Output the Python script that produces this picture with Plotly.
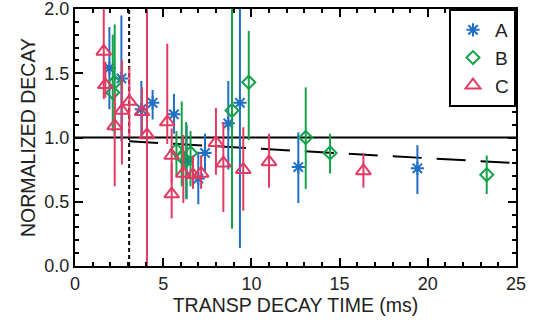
import plotly.graph_objects as go

# ---- data ----
a_x = [1.95, 2.63, 3.76, 4.40, 5.61, 6.33, 6.99, 7.37, 8.69, 9.35, 12.66, 19.41]
a_y = [1.54, 1.46, 1.22, 1.27, 1.18, 0.82, 0.68, 0.88, 1.11, 1.27, 0.77, 0.76]
a_hi = [1.86, 1.95, 1.44, 1.37, 1.34, 1.10, 0.89, 1.03, 1.44, 2.30, 1.04, 0.94]
a_lo = [1.22, 0.97, 1.00, 1.14, 1.03, 0.52, 0.48, 0.74, 0.75, 0.14, 0.49, 0.56]

b_x = [2.14, 2.25, 5.75, 6.05, 6.30, 6.55, 8.90, 9.85, 13.08, 14.46, 23.34]
b_y = [1.35, 1.43, 0.90, 0.85, 0.82, 0.88, 1.21, 1.43, 1.00, 0.88, 0.71]
b_hi = [1.80, 1.88, 1.05, 1.28, 1.12, 1.05, 2.30, 1.83, 1.39, 1.03, 0.86]
b_lo = [1.05, 1.02, 0.70, 0.62, 0.52, 0.62, 0.29, 0.98, 0.60, 0.72, 0.56]

c_x = [1.63, 1.72, 2.25, 2.66, 3.08, 3.80, 4.08, 5.23, 5.48, 5.48, 6.14, 6.69, 7.15, 7.99, 8.41, 9.54, 11.00, 16.35]
c_y = [1.67, 1.41, 1.09, 1.21, 1.28, 1.20, 1.02, 1.12, 0.86, 0.56, 0.72, 0.71, 0.72, 0.96, 0.80, 0.75, 0.81, 0.74]
c_hi = [2.30, 1.59, 1.35, 1.60, 1.55, 1.39, 2.30, 1.73, 1.07, 0.80, 1.02, 0.86, 0.86, 1.23, 1.12, 1.08, 1.03, 0.88]
c_lo = [1.30, 1.31, 0.62, 0.79, 1.00, 1.02, -0.10, 0.95, 0.65, 0.37, 0.49, 0.60, 0.60, 0.71, 0.42, 0.43, 0.61, 0.61]

ref_time = 3.07
unity = 1.0
fit_x = [3.07, 25.0]
fit_y = [0.97, 0.80]

x_ticks = [0, 5, 10, 15, 20, 25]
y_ticks = [0.0, 0.5, 1.0, 1.5, 2.0]
y_tick_text = ["0.0", "0.5", "1.0", "1.5", "2.0"]

BLUE = "#1f6fc5"
GREEN = "#16a24a"
RED = "#e23a62"

FONT = "Liberation Sans, Arial, Helvetica, sans-serif"

fig = go.Figure()

# reference lines
fig.add_trace(go.Scatter(x=[0, 25], y=[unity, unity], mode="lines",
                         line=dict(color="black", width=2), showlegend=False, hoverinfo="skip"))
fig.add_trace(go.Scatter(x=[ref_time, ref_time], y=[0, 2], mode="lines",
                         line=dict(color="black", width=2, dash="4px,3px"), showlegend=False, hoverinfo="skip"))
fig.add_trace(go.Scatter(x=fit_x, y=fit_y, mode="lines",
                         line=dict(color="black", width=2, dash="29px,15px"), showlegend=False, hoverinfo="skip"))


def add_series(name, xs, ys, his, los, color, symbol, size):
    fig.add_trace(go.Scatter(
        x=xs, y=ys, mode="markers", name=name,
        marker=dict(symbol=symbol, size=size, color=color, line=dict(color=color, width=2)),
        error_y=dict(type="data", symmetric=False,
                     array=[h - v for h, v in zip(his, ys)],
                     arrayminus=[v - l for v, l in zip(ys, los)],
                     color=color, thickness=2, width=0),
    ))


add_series("A", a_x, a_y, a_hi, a_lo, BLUE, "asterisk-open", 11)
add_series("B", b_x, b_y, b_hi, b_lo, GREEN, "diamond-open", 10)
add_series("C", c_x, c_y, c_hi, c_lo, RED, "triangle-up-open", 13)

axis_common = dict(
    showgrid=False, zeroline=False, showline=True, linecolor="black", linewidth=2,
    mirror="ticks", ticks="inside", ticklen=8, tickwidth=1.5, tickcolor="black",
    tickfont=dict(family=FONT, size=18, color="#222"),
    automargin=False, ticklabeloverflow="allow",
)

fig.update_layout(
    width=536, height=328,
    margin=dict(l=75, r=20, t=9, b=62),
    paper_bgcolor="white", plot_bgcolor="white",
    font=dict(family=FONT, color="#222"),
    xaxis=dict(range=[0, 25], tickvals=x_ticks,
               minor=dict(dtick=1, ticks="inside", ticklen=4, tickcolor="black", tickwidth=1.5),
               title=dict(text="TRANSP DECAY TIME (ms)", font=dict(family=FONT, size=19.5), standoff=6),
               **axis_common),
    yaxis=dict(range=[0, 2], tickvals=y_ticks, ticktext=y_tick_text,
               minor=dict(dtick=0.1, ticks="inside", ticklen=4, tickcolor="black", tickwidth=1.5),
               title=dict(text="NORMALIZED DECAY", font=dict(family=FONT, size=19.5), standoff=4),
               **axis_common),
    legend=dict(x=1, y=1, xanchor="right", yanchor="top",
                bordercolor="black", borderwidth=2, bgcolor="white",
                font=dict(family=FONT, size=19, color="#222"),
                itemwidth=34, tracegroupgap=0),
    showlegend=True,
)

fig.write_html("out.html", config={"displayModeBar": False},
               post_script="document.body.style.margin='0';")
